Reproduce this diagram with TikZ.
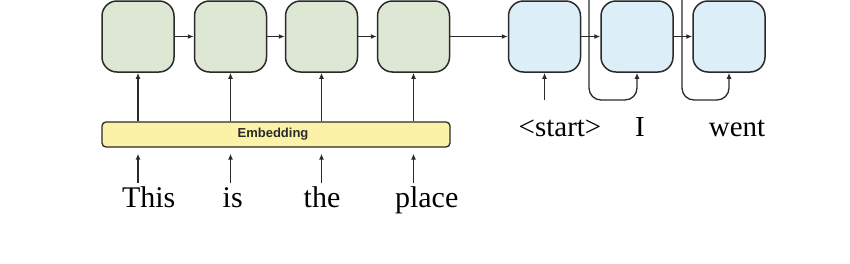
\documentclass[tikz,border=0pt]{standalone}
\usepackage{fontspec}
\setmainfont{Liberation Serif}
\newfontfamily\embfont{Liberation Sans}
\usetikzlibrary{arrows.meta}
\definecolor{linec}{HTML}{2A2A2A}
\definecolor{encc}{HTML}{DDE7D3}
\definecolor{decc}{HTML}{DCEEF7}
\definecolor{embc}{HTML}{FBF2A8}
\begin{document}
\begin{tikzpicture}[x=1pt,y=-1pt,
  cell/.style={draw=linec, line width=1.5pt, rounded corners=15pt, minimum width=72pt, minimum height=71pt, inner sep=0pt},
  enc/.style={cell, fill=encc},
  dec/.style={cell, fill=decc},
  arr/.style={-{Latex[length=6pt,width=5pt]}, line width=1.3pt, draw=linec},
  word/.style={font=\fontsize{30}{30}\selectfont, inner sep=0pt, text height=21pt, text depth=7pt, anchor=base},
  dword/.style={font=\fontsize{29}{29}\selectfont, inner sep=0pt, anchor=base},
]
\useasboundingbox (0,0) rectangle (850,263);
% encoder
\node[enc] (e1) at (138,36.5) {};
\node[enc] (e2) at (230.5,36.5) {};
\node[enc] (e3) at (321.5,36.5) {};
\node[enc] (e4) at (413.5,36.5) {};
% decoder
\node[dec] (d1) at (544.5,36.5) {};
\node[dec] (d2) at (637,36.5) {};
\node[dec] (d3) at (729,36.5) {};
% embedding
\node[draw=linec, line width=1.3pt, fill=embc, rounded corners=4pt, minimum width=348pt, minimum height=25pt, inner sep=0pt] (emb) at (276,134.5) {};
\node[font=\embfont\bfseries\fontsize{13}{13}\selectfont, text=linec, inner sep=0pt] (embt) at (273,134.5) {Embedding};
% words
\node[word] (w1) at (148.7,207) {This};
\node[word] (w2) at (232.7,207) {is};
\node[word] (w3) at (322,207) {the};
\node[word] (w4) at (426.7,207) {place};
\node[dword] (l1) at (560,136) {<start>};
\node[dword] (l2) at (640,136) {I};
\node[dword] (l3) at (737,136) {went};
% word arrows
\foreach \w/\e in {w1/e1,w2/e2,w3/e3,w4/e4}{
  \draw[arr, shorten <=2.5pt, shorten >=6pt] (\w.north -| \e) -- (emb.south -| \e);
  \draw[arr] (emb.north -| \e) -- (\e.south);
}
% horizontal arrows
\draw[arr] (e1.east) -- (e2.west);
\draw[arr] (e2.east) -- (e3.west);
\draw[arr] (e3.east) -- (e4.west);
\draw[arr] (e4.east) -- (d1.west);
\draw[arr] (d1.east) -- (d2.west);
\draw[arr] (d2.east) -- (d3.west);
% feedback loops
\coordinate (t1) at (589,0);
\coordinate (b1) at (589,100);
\coordinate (t2) at (682,0);
\coordinate (b2) at (682,100);
\draw[arr, rounded corners=12pt] (t1) -- (b1) -| (d2.south);
\draw[arr, rounded corners=12pt] (t2) -- (b2) -| (d3.south);
\coordinate (s0) at (544.5,100);
\draw[arr] (s0) -- (d1.south);
\end{tikzpicture}
\end{document}
